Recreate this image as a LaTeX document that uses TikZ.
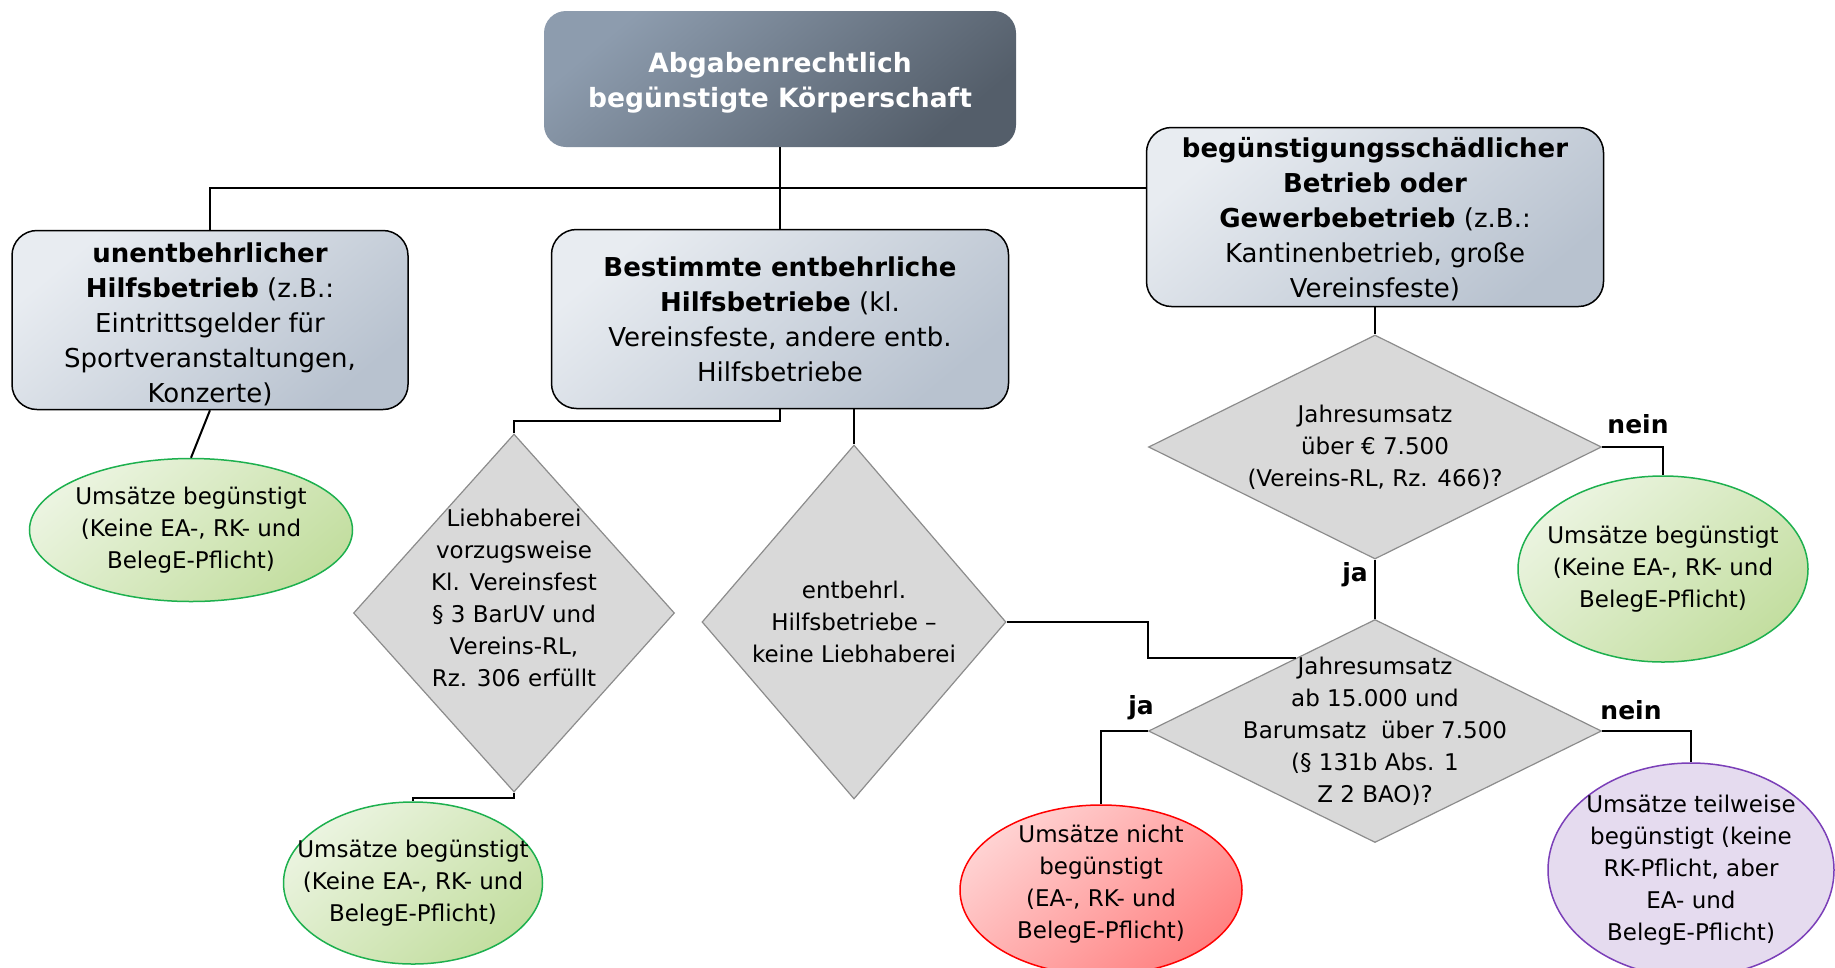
\documentclass[tikz,border=0pt]{standalone}
\usepackage{fontspec}
\setmainfont{DejaVu Sans}
\usepackage{tikz}
\usetikzlibrary{shapes.geometric,calc}

\definecolor{boxlight}{HTML}{E8ECF1}
\definecolor{boxdark}{HTML}{B8C2CF}
\definecolor{toplight}{HTML}{8D9CAE}
\definecolor{topdark}{HTML}{545E6A}
\definecolor{decfill}{HTML}{D9D9D9}
\definecolor{decline}{HTML}{8C8C8C}
\definecolor{greenlight}{HTML}{EBF4E0}
\definecolor{greendark}{HTML}{C3DEA0}
\definecolor{greenline}{HTML}{1DB04E}
\definecolor{redlight}{HTML}{FFD2D2}
\definecolor{reddark}{HTML}{FF8282}
\definecolor{purplefill}{HTML}{E5DBEF}
\definecolor{purpleline}{HTML}{7B3FB8}

\tikzset{
    headbox/.style={draw=none,rounded corners=22pt,top color=toplight,bottom color=topdark,shading angle=40,
        minimum width=472pt,minimum height=136pt,align=center,text=white,
        font=\bfseries\fontsize{26.5}{35}\selectfont},
    opbox/.style={draw=black,line width=1.5pt,rounded corners=25pt,top color=boxlight,bottom color=boxdark,shading angle=40,
        minimum height=179pt,align=center,font=\fontsize{26}{35}\selectfont},
    decision/.style={diamond,draw=decline,line width=1.2pt,fill=decfill,inner sep=0pt},
    result/.style={ellipse,line width=1.5pt,inner sep=0pt},
    ok/.style={result,draw=greenline,top color=greenlight,bottom color=greendark,shading angle=40},
    notok/.style={result,draw=red,top color=redlight,bottom color=reddark,shading angle=40},
    partly/.style={result,draw=purpleline,fill=purplefill},
    txt/.style={align=center,inner sep=0pt,font=\fontsize{23}{32}\selectfont},
    answer/.style={font=\bfseries\fontsize{25}{30}\selectfont},
    link/.style={line width=2pt}
}
\newcommand{\lowertext}[3]{\raisebox{-#1}[\height][\depth]{\parbox{#2}{\centering #3}}}

\begin{document}
\begin{tikzpicture}[x=1pt,y=-1pt]
    \useasboundingbox (0,0) rectangle (1835,967);

    % boxes
    \node[headbox] (koerp) at (780,79) {\lowertext{4pt}{440pt}{Abgabenrechtlich\\begünstigte Körperschaft}};
    \node[opbox,minimum width=396pt] (unentb) at (210,320)
        {\lowertext{4pt}{350pt}{\textbf{unentbehrlicher}\\\textbf{Hilfsbetrieb} (z.B.:\\Eintrittsgelder für\\Sportveranstaltungen,\\Konzerte)}};
    \node[opbox,minimum width=457pt] (entb) at (780,319)
        {\textbf{Bestimmte entbehrliche}\\\textbf{Hilfsbetriebe} (kl.\\Vereinsfeste, andere entb.\\Hilfsbetriebe};
    \node[opbox,minimum width=457pt] (schaedl) at (1375,217)
        {\lowertext{2pt}{410pt}{\textbf{begünstigungsschädlicher}\\\textbf{Betrieb oder}\\\textbf{Gewerbebetrieb} (z.B.:\\Kantinenbetrieb, große\\Vereinsfeste)}};

    % decisions
    \node[decision,minimum width=321pt,minimum height=358pt] (liebh) at (514,613) {};
    \node[txt] (liebhtxt) at ([yshift=15pt]liebh.center)
        {Liebhaberei\\vorzugsweise\\Kl. Vereinsfest\\§ 3 BarUV und\\Vereins-RL,\\Rz. 306 erfüllt};
    \node[decision,minimum width=304pt,minimum height=354pt] (keinlh) at (854,622) {};
    \node[txt] (keinlhtxt) at (keinlh.center) {entbehrl.\\Hilfsbetriebe –\\keine Liebhaberei};
    \node[decision,minimum width=453pt,minimum height=224pt] (umsatzA) at (1375,447) {};
    \node[txt] (umsatzAtxt) at (umsatzA.center) {Jahresumsatz\\über € 7.500\\(Vereins-RL, Rz. 466)?};
    \node[decision,minimum width=453pt,minimum height=223pt] (umsatzB) at (1375,731) {};
    \node[txt] (umsatzBtxt) at (umsatzB.center)
        {Jahresumsatz\\ab 15.000 und\\Barumsatz~ über 7.500\\(§ 131b Abs. 1\\Z 2 BAO)?};

    % results
    \node[ok,minimum width=323pt,minimum height=143pt] (beg1) at (191,530) {};
    \node[txt] (beg1txt) at (beg1.center) {Umsätze begünstigt\\(Keine EA-, RK- und\\BelegE-Pflicht)};
    \node[ok,minimum width=259pt,minimum height=162pt] (beg2) at (413,883) {};
    \node[txt] (beg2txt) at (beg2.center) {Umsätze begünstigt\\(Keine EA-, RK- und\\BelegE-Pflicht)};
    \node[ok,minimum width=290pt,minimum height=186pt] (beg3) at (1663,569) {};
    \node[txt] (beg3txt) at (beg3.center) {Umsätze begünstigt\\(Keine EA-, RK- und\\BelegE-Pflicht)};
    \node[notok,minimum width=282pt,minimum height=170pt] (nichtbeg) at (1101,890) {};
    \node[txt] (nichtbegtxt) at ([yshift=6pt]nichtbeg.center) {Umsätze nicht\\begünstigt\\(EA-, RK- und\\BelegE-Pflicht)};
    \node[partly,minimum width=286pt,minimum height=214pt] (teilbeg) at (1691,870) {};
    \node[txt] (teilbegtxt) at (teilbeg.center)
        {Umsätze teilweise\\begünstigt (keine\\RK-Pflicht, aber\\EA- und\\BelegE-Pflicht)};

    % connectors
    \coordinate (bus) at (780,188);
    \draw[link] (koerp.south) -- (entb.north);
    \draw[link] (unentb.north) |- (bus) -- (bus -| schaedl.west);
    \draw[link] (unentb.south) -- (beg1.north);
    \draw[link] (entb.south) -- ++(0,12) -| (liebh.north);
    \draw[link] (entb.south -| keinlh.north) -- (keinlh.north);
    \draw[link] (liebh.south) -- ++(0,5) -| (beg2.north);
    \draw[link] (keinlh.east) -- ++(141,0) |- ($(umsatzB.west)!0.65!(umsatzB.north)$);
    \draw[link] (schaedl.south) -- (umsatzA.north);
    \draw[link] (umsatzA.east) -| (beg3.north);
    \draw[link] (umsatzA.south) -- (umsatzB.north);
    \draw[link] (umsatzB.west) -| (nichtbeg.north);
    \draw[link] (umsatzB.east) -| (teilbeg.north);

    % answers
    \node[answer] (neinA) at (1638,424) {nein};
    \node[answer] (jaA) at (1355,575) {ja};
    \node[answer] (jaB) at (1141,708) {ja};
    \node[answer] (neinB) at (1631,710) {nein};
\end{tikzpicture}
\end{document}
